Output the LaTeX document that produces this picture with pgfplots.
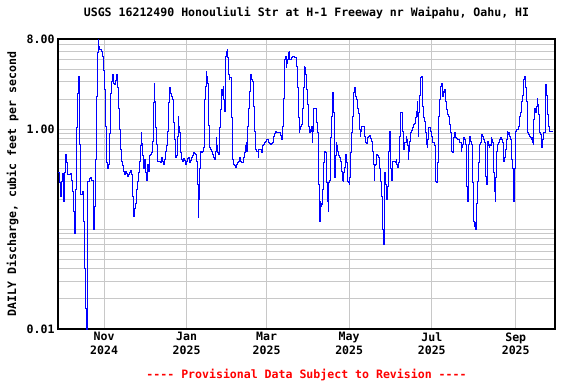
\documentclass[border=0pt]{standalone}
\usepackage{fontspec}
\setmainfont{DejaVu Sans Mono}[Ligatures=TeXOff]
\usepackage{pgfplots}
\pgfplotsset{compat=1.18}
\definecolor{gridgray}{RGB}{200,200,200}
\newcommand\cf{\fontsize{11.6}{13.5}\selectfont\bfseries}
\pgfplotstableread{
d v
-3.0 0.37
-2.26 0.29
-1.52 0.21
-0.78 0.30
-0.04 0.36
0.70 0.29
1.20 0.19
1.69 0.37
2.18 0.56
2.92 0.46
3.66 0.35
4.65 0.35
5.63 0.35
6.37 0.36
7.11 0.31
7.85 0.24
8.59 0.15
9.33 0.09
10.07 0.25
10.81 1.05
11.55 2.3
12.04 3.4
12.54 2.5
12.78 0.71
13.52 0.22
14.51 0.22
15.0 0.24
15.74 0.12
16.48 0.04
17.22 0.016
17.71 0.01
18.45 0.054
18.94 0.30
19.93 0.32
20.67 0.33
21.41 0.31
22.4 0.31
23.38 0.10
23.87 0.17
24.37 0.17
24.86 0.50
25.35 2.14
26.09 5.8
26.59 7.9
27.08 6.8
27.82 6.3
28.8 6.0
29.54 5.4
30.28 3.9
31.02 2.9
31.52 2.5
32.01 1.07
32.75 0.46
33.49 0.40
34.23 0.44
34.72 0.9
35.46 2.3
36.2 3.0
36.94 3.5
37.68 2.9
38.42 2.8
39.16 3.1
39.9 3.5
40.64 2.6
41.38 1.6
42.12 1.0
42.86 0.63
43.6 0.48
44.33 0.43
45.07 0.38
45.81 0.35
46.55 0.38
47.29 0.36
48.03 0.34
48.77 0.35
49.51 0.37
50.25 0.39
50.99 0.35
51.73 0.21
52.47 0.135
53.21 0.16
53.95 0.18
54.69 0.25
55.43 0.30
56.17 0.37
56.91 0.48
57.65 0.68
58.38 0.92
58.88 0.72
59.37 0.54
60.11 0.40
60.85 0.50
61.59 0.37
62.33 0.31
63.07 0.44
63.81 0.38
64.55 0.54
65.29 0.56
66.03 0.58
66.77 0.76
67.26 1.83
68.0 2.9
68.49 1.9
69.23 1.03
69.97 0.71
70.71 0.48
71.7 0.48
72.9 0.46
73.7 0.52
74.4 0.48
75.2 0.44
75.9 0.50
76.6 0.60
77.4 0.68
78.1 0.95
78.9 1.83
79.6 2.6
80.3 2.3
81.1 2.14
81.8 1.98
82.6 1.16
83.3 0.79
83.8 0.52
84.5 0.54
85.3 0.85
85.8 1.35
86.2 1.07
87.0 0.92
87.7 0.58
88.5 0.50
89.2 0.48
89.9 0.51
90.7 0.49
91.4 0.44
92.2 0.48
92.9 0.51
93.6 0.52
94.4 0.46
95.1 0.49
95.9 0.52
96.6 0.54
97.3 0.59
98.1 0.57
98.8 0.56
99.6 0.48
100.1 0.28
100.5 0.13
101.0 0.20
101.5 0.40
102.3 0.60
103.0 0.58
103.7 0.60
104.5 0.66
105.0 1.16
105.5 1.98
106.0 2.69
106.5 3.8
106.9 3.39
107.4 2.9
107.9 1.83
108.4 1.1
109.2 0.66
109.9 0.63
110.7 0.60
111.4 0.56
112.1 0.52
112.9 0.50
113.4 0.60
113.9 0.82
114.4 0.68
115.1 0.58
115.8 0.56
116.3 1.03
116.8 1.57
117.6 2.05
118.0 2.49
118.5 2.2
119.0 2.69
119.5 1.98
120.0 1.5
120.5 4.4
121.0 5.37
121.5 6.0
122.0 6.26
122.5 5.2
123.0 3.5
123.5 3.14
124.0 3.3
124.7 3.3
125.4 1.3
125.9 0.50
126.7 0.44
127.4 0.43
128.2 0.41
128.9 0.44
129.6 0.46
130.4 0.48
131.1 0.52
131.8 0.48
132.6 0.46
133.3 0.46
134.1 0.52
134.6 0.58
135.1 0.66
135.6 0.68
136.0 0.73
136.5 0.60
137.0 1.07
137.5 1.62
138.3 2.4
139.0 3.0
139.5 3.5
140.0 3.14
140.5 3.0
141.0 2.2
141.5 1.7
142.0 0.95
142.7 0.73
143.2 0.63
143.9 0.60
144.7 0.52
145.4 0.63
146.1 0.63
146.9 0.63
147.6 0.58
148.1 0.68
148.9 0.71
149.6 0.73
150.3 0.76
151.1 0.79
151.8 0.78
152.6 0.73
153.3 0.72
154.0 0.71
154.8 0.72
155.5 0.74
156.3 0.85
157.0 0.90
157.7 0.94
158.5 0.93
159.2 0.92
160.0 0.92
160.7 0.92
161.4 0.87
161.9 0.85
162.4 0.78
162.9 1.07
163.4 2.05
163.9 3.95
164.4 4.97
164.9 5.37
165.4 4.1
165.9 4.6
166.6 4.97
167.4 5.8
167.9 6.0
168.3 5.0
169.1 5.2
169.8 5.37
170.6 5.4
171.3 5.25
172.0 5.2
172.8 5.2
173.3 4.27
174.0 2.6
174.5 1.3
175.0 0.92
175.5 0.99
176.2 1.07
177.0 1.12
177.7 1.62
178.2 2.6
178.7 4.27
179.2 4.1
179.7 3.5
180.2 2.91
180.7 2.5
181.2 1.75
181.7 1.35
182.1 1.07
182.6 0.92
183.1 0.99
183.6 0.95
184.1 1.07
184.6 0.73
185.1 0.95
185.6 1.62
186.3 1.62
187.1 1.62
187.6 1.41
188.1 1.16
188.6 0.92
189.0 0.71
189.5 0.28
190.0 0.12
190.5 0.19
191.0 0.17
191.5 0.18
192.0 0.175
192.5 0.25
193.0 0.46
193.5 0.60
194.2 0.58
195.0 0.56
195.5 0.29
195.9 0.19
196.4 0.15
196.9 0.29
197.4 0.31
197.9 0.54
198.4 0.82
198.9 1.35
199.4 2.05
199.9 2.31
200.4 1.46
200.9 0.56
201.4 0.33
201.9 0.54
202.4 0.73
202.9 0.68
203.3 0.60
203.8 0.58
204.3 0.54
204.8 0.52
205.6 0.48
206.1 0.38
206.6 0.38
207.0 0.31
207.5 0.30
208.0 0.37
208.5 0.41
209.0 0.50
209.5 0.56
210.0 0.46
210.5 0.37
211.0 0.30
211.5 0.29
212.0 0.28
212.5 0.33
213.0 0.58
213.5 0.68
213.9 0.92
214.4 1.35
214.9 2.05
215.4 2.31
215.9 2.6
216.4 2.14
216.9 2.14
217.4 1.98
217.9 1.62
218.6 1.45
219.4 1.0
220.1 0.85
220.7 0.95
221.4 1.07
222.1 1.07
222.9 1.07
223.6 0.85
224.1 0.73
224.6 0.72
225.3 0.82
226.1 0.85
226.8 0.86
227.6 0.80
228.3 0.76
229.0 0.71
229.5 0.60
230.0 0.44
230.5 0.31
231.0 0.43
231.5 0.44
232.0 0.54
232.5 0.56
233.2 0.54
234.0 0.52
234.5 0.40
234.9 0.31
235.4 0.30
235.9 0.21
236.4 0.157
236.9 0.099
237.4 0.07
237.9 0.16
238.4 0.37
238.9 0.28
239.4 0.21
239.9 0.20
240.4 0.27
240.9 0.60
241.4 0.60
241.9 0.95
242.3 0.73
242.8 0.40
243.3 0.31
243.8 0.34
244.3 0.48
244.8 0.48
245.5 0.48
246.3 0.46
246.8 0.50
247.3 0.44
247.8 0.41
248.3 0.46
248.8 0.50
249.2 0.85
249.7 1.46
250.5 1.46
251.2 1.46
251.7 0.95
252.2 0.63
252.7 0.63
253.2 0.73
253.7 0.73
254.2 0.85
254.7 0.79
255.2 0.68
255.7 0.50
256.1 0.60
256.6 0.76
257.1 0.79
257.6 0.92
258.1 0.97
258.6 1.0
259.1 1.05
259.6 1.12
260.1 1.12
260.6 1.14
261.1 1.3
261.6 1.5
262.1 1.9
262.6 1.35
263.0 0.85
263.5 1.46
264.0 2.2
264.5 2.9
265.0 3.26
265.5 3.39
266.0 2.6
266.5 1.7
267.0 1.3
267.5 1.2
268.0 1.07
268.5 0.92
269.0 0.71
269.5 0.66
269.9 0.79
270.4 0.92
270.9 1.03
271.4 1.03
271.9 1.03
272.4 0.95
272.9 0.85
273.4 0.79
273.9 0.73
274.4 0.73
274.9 0.68
275.4 0.48
275.9 0.30
276.4 0.29
276.9 0.29
277.3 0.46
277.8 0.50
278.3 1.35
278.8 1.98
279.3 2.6
279.8 2.69
280.3 2.9
280.8 2.14
281.3 2.4
281.8 2.31
282.3 2.49
282.8 2.2
283.3 1.9
283.8 1.7
284.2 1.57
284.7 1.41
285.2 1.41
285.7 1.35
286.2 1.12
286.7 0.92
287.2 0.60
287.7 0.60
288.2 0.58
288.7 0.66
289.2 0.82
289.7 0.92
290.2 0.88
290.7 0.82
291.1 0.80
291.9 0.79
292.6 0.78
293.4 0.74
294.1 0.74
294.65 0.60
295.1 0.66
295.6 0.71
296.4 0.82
297.1 0.79
297.9 0.71
298.3 0.56
298.8 0.27
299.3 0.19
299.8 0.34
300.3 0.71
300.8 0.85
301.3 0.79
301.8 0.76
302.3 0.71
302.8 0.54
303.3 0.29
303.8 0.12
304.3 0.107
304.8 0.116
305.3 0.099
305.7 0.116
306.2 0.18
306.7 0.30
307.5 0.46
308.0 0.58
308.5 0.71
308.9 0.73
309.4 0.85
309.9 0.88
310.4 0.85
310.9 0.82
311.4 0.79
311.9 0.73
312.4 0.54
312.9 0.34
313.4 0.28
313.9 0.43
314.4 0.76
314.9 0.68
315.4 0.66
315.9 0.71
316.3 0.68
316.8 0.82
317.3 0.79
317.8 0.73
318.3 0.60
318.8 0.37
319.3 0.24
319.8 0.19
320.3 0.33
320.8 0.60
321.3 0.63
321.8 0.71
322.3 0.73
322.8 0.76
323.2 0.79
323.7 0.82
324.2 0.80
324.7 0.79
325.2 0.73
325.7 0.60
326.2 0.48
326.7 0.52
327.2 0.56
327.7 0.63
328.2 0.79
328.7 0.95
329.2 0.92
329.7 0.88
330.1 0.92
330.6 0.85
331.1 0.79
331.6 0.68
332.1 0.50
332.6 0.40
333.1 0.27
333.6 0.19
334.1 0.40
334.6 0.92
335.1 0.95
335.6 0.99
336.1 0.99
336.6 0.99
337.0 1.07
337.5 1.2
338.0 1.35
338.5 1.46
339.0 1.7
339.5 1.9
340.0 2.2
340.5 2.49
341.0 3.14
341.5 3.39
342.0 3.26
342.5 2.6
343.0 1.9
343.5 1.07
343.95 0.92
344.4 0.88
344.9 0.88
345.4 0.85
345.9 0.82
346.4 0.79
346.9 0.82
347.4 0.73
347.9 0.71
348.4 1.25
348.9 1.62
349.4 1.5
349.9 1.46
350.4 1.7
350.9 2.05
351.3 1.75
351.8 1.41
352.3 1.07
352.8 0.92
353.3 0.88
353.8 0.78
354.3 0.66
354.8 0.78
355.3 0.92
355.8 0.92
356.3 0.93
356.8 1.62
357.3 2.8
357.8 2.2
358.3 1.83
358.7 1.41
359.2 1.07
359.7 0.99
360.2 0.95
361.0 0.95
361.7 0.95
362.4 0.95
}\flowtable
\begin{document}
\begin{tikzpicture}[x=1bp,y=1bp]
\path[use as bounding box] (0,0) rectangle (576,384);
\begin{axis}[
  at={(58bp,55bp)}, anchor=south west,
  scale only axis, width=497bp, height=290bp,
  xmin=-3, xmax=364,
  ymode=log, ymin=0.01, ymax=8,
  xtick={31,92,151,212,273,335},
  xticklabels={{Nov\\2024},{Jan\\2025},{Mar\\2025},{May\\2025},{Jul\\2025},{Sep\\2025}},
  xticklabel style={align=center, font=\cf},
  ytick={0.01,1,8},
  yticklabels={0.01,1.00,8.00},
  yticklabel style={font=\cf},
  minor ytick={0.02,0.03,0.04,0.05,0.06,0.07,0.08,0.09,0.1,0.2,0.3,0.4,0.5,0.6,0.7,0.8,0.9,2,3,4,5,6,7},
  minor xtick={},
  xmajorgrids, ymajorgrids, yminorgrids,
  major grid style={gridgray, line width=1bp},
  minor grid style={gridgray, line width=1bp},
  major tick length=0pt, minor tick length=0pt,
  axis line style={black, line width=1.2bp},
  /pgf/number format/assume math mode=true,
  title={USGS 16212490 Honouliuli Str at H-1 Freeway nr Waipahu, Oahu, HI},
  title style={font=\cf, at={(rel axis cs:0.5,1)}, anchor=center, yshift=20bp},
  ylabel={DAILY Discharge, cubic feet per second},
  ylabel style={font=\cf, at={(rel axis cs:-0.0915,0.5)}, anchor=center},
]
\addplot[blue, line width=1bp, const plot, no marks] table[x=d, y=v] {\flowtable};
\end{axis}
\node[font=\cf, text=red] at (306.5,9) {---- Provisional Data Subject to Revision ----};
\end{tikzpicture}
\end{document}
